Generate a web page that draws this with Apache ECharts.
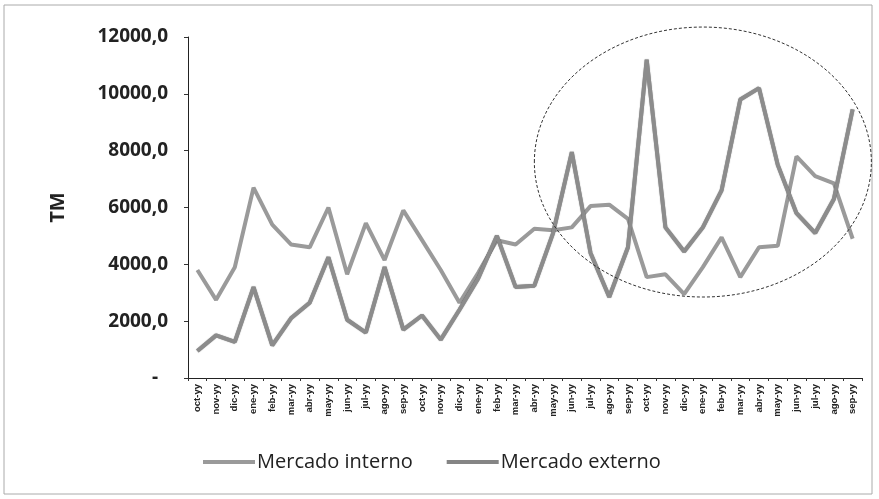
<!DOCTYPE html>
<html>
<head>
<meta charset="utf-8">
<script src="https://cdn.jsdelivr.net/npm/echarts@6/dist/echarts.min.js"></script>
<style>
  html, body { margin: 0; padding: 0; background: #fff; }
  #chart { width: 879px; height: 499px; }
</style>
</head>
<body>
<div id="chart"></div>
<script>
// meses, tres años
var MONTHS = ['oct-yy', 'nov-yy', 'dic-yy', 'ene-yy', 'feb-yy', 'mar-yy',
              'abr-yy', 'may-yy', 'jun-yy', 'jul-yy', 'ago-yy', 'sep-yy'];
var categories = MONTHS.concat(MONTHS, MONTHS);

var mercadoInterno = [
  3800, 2750, 3900, 6700, 5400, 4700, 4600, 6000, 3650, 5450, 4150, 5900,
  4850, 3800, 2650, 3700, 4850, 4700, 5250, 5200, 5300, 6050, 6100, 5600,
  3550, 3650, 2950, 3900, 4950, 3550, 4600, 4650, 7800, 7100, 6850, 4900
];
var mercadoExterno = [
  950, 1500, 1270, 3200, 1150, 2100, 2650, 4250, 2050, 1600, 3900, 1700,
  2200, 1350, 2400, 3500, 5000, 3200, 3250, 5100, 7950, 4400, 2850, 4600,
  11200, 5300, 4450, 5300, 6600, 9800, 10200, 7500, 5800, 5100, 6300, 9450
];
var yTicks = [0, 2000, 4000, 6000, 8000, 10000, 12000];

var myChart = echarts.init(document.getElementById('chart'));

var option = {
  backgroundColor: '#fff',
  animation: false,
  grid: {
    left: 188,
    right: 17,
    top: 37,
    bottom: 121
  },
  legend: {
    bottom: 22,
    left: 198,
    itemWidth: 52,
    itemHeight: 4,
    itemGap: 34,
    icon: 'rect',
    textStyle: {
      fontFamily: 'Open Sans',
      fontSize: 20,
      color: '#222',
      padding: [0, 0, 0, -3]
    },
    data: ['Mercado interno', 'Mercado externo']
  },
  xAxis: {
    type: 'category',
    data: categories,
    boundaryGap: true,
    axisLine: { lineStyle: { color: '#222', width: 1 } },
    axisTick: { show: true, length: 3, lineStyle: { color: '#333' } },
    axisLabel: {
      rotate: 90,
      interval: 0,
      margin: 6,
      fontFamily: 'Liberation Sans',
      fontSize: 9.5,
      fontWeight: 'bold',
      color: '#222'
    }
  },
  yAxis: {
    type: 'value',
    min: yTicks[0],
    max: yTicks[yTicks.length - 1],
    interval: 2000,
    name: 'TM',
    nameLocation: 'middle',
    nameRotate: 90,
    nameGap: 120,
    nameTextStyle: {
      fontFamily: 'Open Sans',
      fontSize: 20,
      fontWeight: 'bold',
      color: '#222'
    },
    axisLine: { show: true, lineStyle: { color: '#222', width: 1 } },
    axisTick: { show: true, length: 4, lineStyle: { color: '#333' } },
    splitLine: { show: false },
    axisLabel: {
      margin: 20,
      fontFamily: 'Open Sans',
      fontSize: 19,
      fontWeight: 'bold',
      color: '#222',
      formatter: function (v) {
        if (v === 0) return '-  ';
        return v.toFixed(1).replace('.', ',');
      }
    }
  },
  series: [{
    name: 'Mercado interno',
    type: 'line',
    data: mercadoInterno,
    symbol: 'none',
    color: '#9a9a9a',
    lineStyle: { color: '#9a9a9a', width: 4 },
    z: 2
  }, {
    name: 'Mercado externo',
    type: 'line',
    data: mercadoExterno,
    symbol: 'none',
    color: '#858585',
    lineStyle: { color: '#8c8c8c', width: 4, shadowColor: 'rgba(0,0,0,0.5)', shadowBlur: 1 },
    z: 3
  }]
};

myChart.setOption(option);

// elipse punteada alrededor del último año (anotación)
var c = myChart.convertToPixel({ seriesIndex: 0 }, [27, 7600]);
var e = myChart.convertToPixel({ seriesIndex: 0 }, [36.05, 2850]);
myChart.setOption({
  graphic: [{
    type: 'ellipse',
    shape: { cx: c[0], cy: c[1], rx: e[0] - c[0], ry: e[1] - c[1] },
    style: { fill: 'none', stroke: '#333', lineWidth: 1, lineDash: [3, 2] },
    z: 10
  }, {
    type: 'rect',
    shape: { x: 4, y: 5, width: 868, height: 489 },
    style: { fill: 'none', stroke: '#aaa', lineWidth: 1 },
    z: 0
  }]
});

window.addEventListener('resize', function () {
  myChart.resize();
});
</script>
</body>
</html>
